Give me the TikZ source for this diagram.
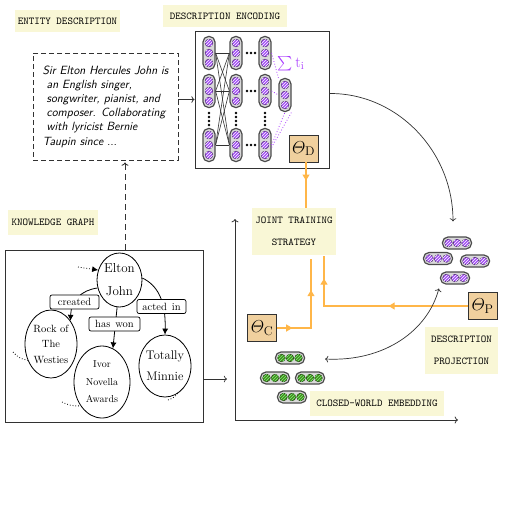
\documentclass[tikz,border=0pt]{standalone}
\usepackage{amsmath}
\usepackage{fontspec}
\usetikzlibrary{arrows.meta, shapes.geometric, patterns, calc}
\definecolor{lblyel}{RGB}{249,247,214}
\definecolor{tanc}{RGB}{240,208,158}
\definecolor{orng}{RGB}{255,182,72}
\definecolor{purp}{RGB}{165,80,245}
\definecolor{grn}{RGB}{75,135,35}
\definecolor{sig}{RGB}{170,60,255}
\definecolor{bd}{RGB}{50,50,50}
\newcommand{\pcirc}[5]{\path[fill=#3, postaction={pattern=north east lines, pattern color=#5}, draw=#3!45!black, line width=0.5pt] (#1,#2) circle[radius=#4];}
\newcommand{\vpill}[3]{\node[vpst] (#1) at (#2,#3) {}; \foreach \dd in {-10,0,10}{\pcirc{#2}{{#3+\dd}}{purp}{3.9pt}{white}}}
\newcommand{\hpill}[5]{\node[hpst] (#1) at (#2,#3) {}; \foreach \dd in {-8.5,0,8.5}{\pcirc{{#2+\dd}}{#3}{#4}{3.8pt}{#5}}}
\begin{document}
\begin{tikzpicture}[x=1pt,y=-1pt,
  lbl/.style={fill=lblyel, font=\fontsize{10.5}{22}\selectfont\ttfamily, align=center, inner sep=0pt},
  box/.style={draw=bd, line width=0.9pt, fill=white, inner sep=0pt},
  vpst/.style={draw=black!70, fill=black!15, line width=1.2pt, rounded corners=5.5pt, minimum width=12pt, minimum height=33pt, inner sep=0pt},
  hpst/.style={draw=black!70, fill=black!15, line width=1.2pt, rounded corners=5.5pt, minimum width=29pt, minimum height=12pt, inner sep=0pt},
  theta/.style={draw=bd, fill=tanc, line width=0.8pt, minimum width=29pt, minimum height=27pt, inner sep=0pt, font=\fontsize{18}{18}\selectfont},
  oline/.style={draw=orng, line width=1.1pt},
  otip/.style={oline, -{Triangle[length=6pt,width=7pt]}},
  kgn/.style={ellipse, draw=black, line width=0.8pt, align=center, inner sep=-2pt, fill=white},
  kge/.style={draw=black, line width=0.8pt, -{Latex[length=6pt,width=6pt]}},
  elab/.style={draw=black, fill=white, rounded corners=2pt, line width=0.7pt, inner sep=1pt, minimum height=14pt, font=\fontsize{10.5}{12}\selectfont},
  dotl/.style={draw=black, dotted, line width=0.8pt},
  conn/.style={draw=bd, line width=0.7pt}
]
\useasboundingbox (0,0) rectangle (512,512);
% labels
\node[lbl, minimum width=105pt, minimum height=22pt] (lent) at (67.5,21) {ENTITY DESCRIPTION};
\node[lbl, minimum width=124pt, minimum height=22pt] (lenc) at (225,16) {DESCRIPTION ENCODING};
\node[lbl, minimum width=90pt, minimum height=25pt] (lkg) at (53,222.5) {KNOWLEDGE GRAPH};
\node[lbl, minimum width=84pt, minimum height=47pt] (jts) at (294,231.5) {JOINT TRAINING\\STRATEGY};
\node[lbl, minimum width=73pt, minimum height=47pt] (lproj) at (461.5,350.5) {DESCRIPTION\\PROJECTION};
\node[lbl, minimum width=134pt, minimum height=25pt] (lcw) at (377,403.5) {CLOSED-WORLD EMBEDDING};
% entity description
\node[draw=bd, line width=0.8pt, dash pattern=on 5pt off 3pt, minimum width=145pt, minimum height=107pt, align=left,
  font=\fontsize{11.9}{14.2}\selectfont\sffamily\itshape, inner sep=0pt] (ent) at (105.5,106.5)
  {Sir Elton Hercules John is\\\hspace*{4pt}an English singer,\\\hspace*{4pt}songwriter, pianist, and\\\hspace*{4pt}composer. Collaborating\\\hspace*{4pt}with lyricist Bernie\\Taupin since ...};
% encoding box
\node[box, minimum width=134pt, minimum height=137pt] (enc) at (262,99.5) {};
\vpill{a1}{209}{53} \vpill{a2}{209}{91} \vpill{a3}{209}{145}
\vpill{b1}{236}{53} \vpill{b2}{236}{91} \vpill{b3}{236}{145}
\vpill{c1}{265}{53} \vpill{c2}{265}{91} \vpill{c3}{265}{145}
\vpill{s1}{285}{95}
\foreach \i in {1,2,3}{\foreach \j in {1,2,3}{\draw[conn, line width=0.6pt] (a\i.east) -- (b\j.west);}}
\foreach \xx in {209,236,265}{\foreach \yy in {113,117,121,125}{\fill[black] (\xx,\yy) circle[radius=1.3pt];}}
\foreach \yy in {53,91,145}{\foreach \xx in {247,251,255}{\fill[black] (\xx,\yy) circle[radius=1.4pt];}}
\draw[sig, dotted, line width=0.8pt] (c1.east) -- (s1.north west);
\draw[sig, dotted, line width=0.8pt] (c2.east) -- (s1.west);
\draw[sig, dotted, line width=0.8pt] (c3.east) -- (s1.south);
\draw[sig, dotted, line width=0.8pt] (c3.-20) -- (s1.south east);
\node[text=sig, font=\fontsize{15.5}{15.5}\selectfont, inner sep=0pt] (sig) at (291,64) {$\sum \mathrm{t_i}$};
% theta boxes and orange training connectors
\node[theta] (thD) at (303.5,148.5) {$\varTheta_{\mathrm{D}}$};
\node[theta] (thC) at (262,328) {$\varTheta_{\mathrm{C}}$};
\node[theta] (thP) at (482.5,306) {$\varTheta_{\mathrm{P}}$};
\coordinate (jdx) at (306,0);
\coordinate (jcx) at (311,0);
\coordinate (jpx) at (324,0);
\draw[oline] (thD.south -| jdx) -- (jts.north -| jdx);
\draw[otip] (thD.south -| jdx) -- ($(thD.south -| jdx)!0.4!(jts.north -| jdx)$);
\draw[oline] (thC.east) -- (thC.east -| jcx) -- ($(jts.south -| jcx)+(0,4)$);
\draw[otip] (thC.east) -- ($(thC.east)!0.45!(thC.east -| jcx)$);
\draw[otip] (thC.east -| jcx) -- ($(thC.east -| jcx)!0.55!($(jts.south -| jcx)+(0,4)$)$);
\draw[oline] (thP.west) -- (thP.west -| jpx) -- ($(jts.south -| jpx)+(0,1)$);
\draw[otip] (thP.west) -- ($(thP.west)!0.55!(thP.west -| jpx)$);
\draw[otip] (thP.west -| jpx) -- ($(thP.west -| jpx)!0.55!($(jts.south -| jpx)+(0,1)$)$);
% entity -> encoding
\draw[conn, ->] (ent.east |- enc.west) -- (enc.west);
% knowledge graph
\node[box, minimum width=198pt, minimum height=172pt] (kg) at (104,336) {};
\coordinate (dx) at (125,0);
\draw[bd, dash pattern=on 6pt off 4pt, line width=0.8pt, ->] (kg.north -| dx) -- ($(ent.south -| dx)+(0,2)$);
\node[kgn, minimum width=45pt, minimum height=54pt, font=\fontsize{13}{23}\selectfont] (ej) at (119.5,280) {Elton\\John};
\node[kgn, minimum width=52pt, minimum height=68pt, font=\fontsize{10.5}{15.5}\selectfont] (rock) at (51,344) {Rock of\\The\\Westies};
\node[kgn, minimum width=56pt, minimum height=72pt, font=\fontsize{10}{17.5}\selectfont] (ivor) at (102,382) {Ivor\\Novella\\Awards};
\node[kgn, minimum width=52pt, minimum height=62pt, font=\fontsize{12.5}{21}\selectfont] (tm) at (165,366) {Totally\\Minnie};
\draw[kge] (ej.200) .. controls (82,290) and (71,300) .. (rock.50);
\draw[kge] (ej.265) -- (ivor.72);
\draw[kge] (ej.5) .. controls (157,285) and (166,300) .. (tm.north);
\node[elab, minimum width=49pt] (lcr) at (74.5,302) {created};
\node[elab, minimum width=51pt] (lhw) at (114.5,324) {has\hspace{5pt}won};
\node[elab, minimum width=49pt] (lai) at (161.5,306.5) {acted\hspace{5pt}in};
\coordinate (d1) at (78,267);
\draw[dotl, -{Latex[length=6pt,width=6pt]}] (d1) -- (ej.155);
\coordinate (d2) at (13,352);
\draw[dotl] (d2) to[bend right=20] (rock.215);
\coordinate (d3) at (62,402);
\draw[dotl] (d3) to[bend right=15] (ivor.228);
\coordinate (d4) at (168,400);
\draw[dotl] (d4) to[bend right=15] (tm.295);
% axes
\coordinate (O) at (235,420); \coordinate (Ytop) at (235,219); \coordinate (Xr) at (458,420);
\draw[bd, line width=0.8pt, ->] (O) -- (Ytop);
\draw[bd, line width=0.8pt, ->] (O) -- (Xr);
\coordinate (kgin) at (227,379);
\draw[conn, ->] (kg.east |- kgin) -- (kgin);
% clusters
\hpill{p1}{457}{243}{purp}{white} \hpill{p2}{438}{258.5}{purp}{white} \hpill{p3}{475}{261}{purp}{white} \hpill{p4}{455}{278}{purp}{white}
\hpill{g1}{290}{358}{grn}{green!55!white} \hpill{g2}{275}{378}{grn}{green!55!white} \hpill{g3}{310}{378}{grn}{green!55!white} \hpill{g4}{292}{397}{grn}{green!55!white}
\draw[conn, ->] ($(enc.east)+(0,-6)$) .. controls (397,93) and (453,151) .. ($(p1.north)+(-4,-15)$);
\draw[conn, <->, shorten <=20pt, shorten >=4pt] (g1.east) .. controls (385,362) and (428,330) .. (p4.south west);
\end{tikzpicture}
\end{document}
